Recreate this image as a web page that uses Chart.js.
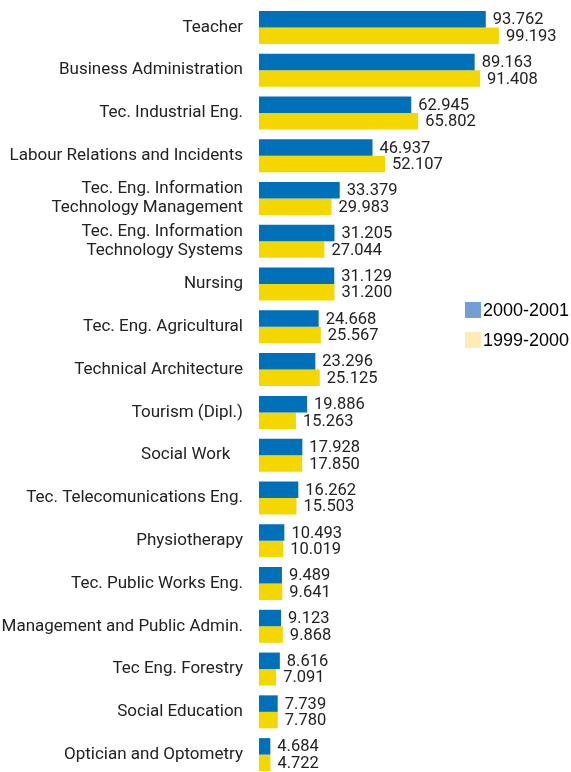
<!DOCTYPE html>
<html lang="en">
<head>
  <meta charset="UTF-8">
  <title>Students by degree</title>
  <script src="https://cdn.jsdelivr.net/npm/chart.js"></script>
  <style>
    html, body { margin: 0; padding: 0; overflow: hidden; background: #fff; }
    #wrap { width: 571px; height: 776px; position: relative; }
  </style>
</head>
<body>
  <div id="wrap"><canvas id="chart"></canvas></div>

  <script>
    const categories = [
      'Teacher',
      'Business Administration',
      'Tec. Industrial Eng.',
      'Labour Relations and Incidents',
      ['Tec. Eng. Information', 'Technology Management'],
      ['Tec. Eng. Information', 'Technology Systems'],
      'Nursing',
      'Tec. Eng. Agricultural',
      'Technical Architecture',
      'Tourism (Dipl.)',
      'Social Work   ',
      'Tec. Telecomunications Eng.',
      'Physiotherapy',
      'Tec. Public Works Eng.',
      'Management and Public Admin.',
      'Tec Eng. Forestry',
      'Social Education',
      'Optician and Optometry'
    ];
    const seriesNames = ['2000-2001', '1999-2000'];
    const students2000 = [93762, 89163, 62945, 46937, 33379, 31205, 31129, 24668, 23296, 19886, 17928, 16262, 10493, 9489, 9123, 8616, 7739, 4684];
    const students1999 = [99193, 91408, 65802, 52107, 29983, 27044, 31200, 25567, 25125, 15263, 17850, 15503, 10019, 9641, 9868, 7091, 7780, 4722];

    const barColors = ['#0071b9', '#f5d700'];
    const legendColors = ['#729fd4', '#ffebb5'];
    const labelFont = "Roboto, sans-serif";

    // 93762 -> "93.762"
    const fmt = v => String(v).replace(/\B(?=(\d{3})+(?!\d))/g, '.');

    const valueLabels = {
      id: 'valueLabels',
      afterDatasetsDraw(chart) {
        const ctx = chart.ctx;
        ctx.save();
        ctx.font = '16.5px ' + labelFont;
        ctx.fillStyle = '#222';
        ctx.textAlign = 'left';
        ctx.textBaseline = 'middle';
        chart.data.datasets.forEach((ds, i) => {
          chart.getDatasetMeta(i).data.forEach((bar, j) => {
            ctx.fillText(fmt(ds.data[j]), bar.x + 7, bar.y + 1);
          });
        });
        ctx.restore();
      }
    };

    const sideLegend = {
      id: 'sideLegend',
      afterDraw(chart) {
        const ctx = chart.ctx;
        ctx.save();
        ctx.font = '18px "Liberation Sans", Arial, sans-serif';
        ctx.textBaseline = 'middle';
        seriesNames.forEach((name, i) => {
          const y = 310 + i * 30;
          ctx.fillStyle = legendColors[i];
          ctx.fillRect(465, y - 8, 16, 16);
          ctx.fillStyle = '#000';
          ctx.fillText(name, 483, y + 1);
        });
        ctx.restore();
      }
    };

    new Chart(document.getElementById('chart'), {
      type: 'bar',
      data: {
        labels: categories,
        datasets: [
          { label: seriesNames[0], data: students2000, backgroundColor: barColors[0] },
          { label: seriesNames[1], data: students1999, backgroundColor: barColors[1] }
        ]
      },
      options: {
        indexAxis: 'y',
        responsive: true,
        maintainAspectRatio: false,
        animation: false,
        categoryPercentage: 0.771,
        barPercentage: 1.0,
        layout: { padding: { top: 6, bottom: 0, left: 0, right: 0 } },
        plugins: {
          legend: { display: false },
          tooltip: { enabled: false }
        },
        scales: {
          x: {
            display: false,
            min: 0,
            max: 129000
          },
          y: {
            grid: { display: false, drawTicks: false },
            border: { display: false },
            afterFit: scale => {
              scale.width = 259;
              scale.paddingTop = 0;
              scale.paddingBottom = 0;
            },
            ticks: {
              padding: 16,
              color: '#222',
              font: { family: labelFont, size: 17, lineHeight: 1.12 }
            }
          }
        }
      },
      plugins: [valueLabels, sideLegend]
    });
  </script>
</body>
</html>
